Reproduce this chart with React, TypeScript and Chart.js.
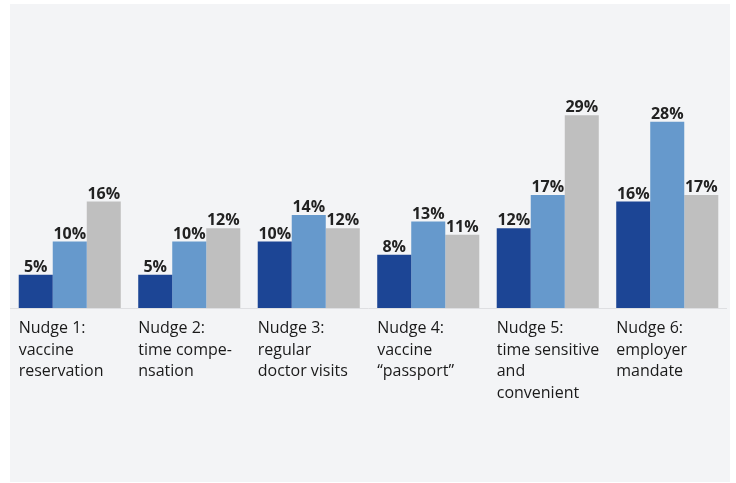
import React, { useEffect, useRef } from "react";
import { Chart, registerables } from "chart.js";

Chart.register(...registerables);

const categories: string[][] = [
  ["Nudge 1:", "vaccine", "reservation"],
  ["Nudge 2:", "time compe-", "nsation"],
  ["Nudge 3:", "regular", "doctor visits"],
  ["Nudge 4:", "vaccine", "\u201Cpassport\u201D"],
  ["Nudge 5:", "time sensitive", "and", "convenient"],
  ["Nudge 6:", "employer", "mandate"],
];

const seriesDark = [5, 5, 10, 8, 12, 16];
const seriesLight = [10, 10, 14, 13, 17, 28];
const seriesGray = [16, 12, 12, 11, 29, 17];

const COLORS = ["#1c4595", "#6699cc", "#bfbfbf"];
const CAT_PCT = 0.854;

const panelPlugin = {
  id: "panelBg",
  beforeDraw(chart: any) {
    const ctx = chart.ctx;
    ctx.save();
    ctx.fillStyle = "#ffffff";
    ctx.fillRect(0, 0, chart.width, chart.height);
    ctx.fillStyle = "#f3f4f6";
    ctx.fillRect(10, 4, 720, 478);
    const a = chart.chartArea;
    ctx.strokeStyle = "#dedfe2";
    ctx.lineWidth = 1;
    ctx.beginPath();
    ctx.moveTo(a.left, a.bottom + 0.5);
    ctx.lineTo(a.right, a.bottom + 0.5);
    ctx.stroke();
    ctx.restore();
  },
};

const labelsPlugin = {
  id: "valueAndCatLabels",
  afterDatasetsDraw(chart: any) {
    const ctx = chart.ctx;
    ctx.save();
    ctx.font = "bold 16px 'Open Sans'";
    ctx.fillStyle = "#222222";
    ctx.textAlign = "center";
    ctx.textBaseline = "alphabetic";
    chart.data.datasets.forEach((ds: any, di: number) => {
      const meta = chart.getDatasetMeta(di);
      meta.data.forEach((el: any, i: number) => {
        ctx.fillText(ds.data[i] + "%", el.x, el.y - 3);
      });
    });
    const xs = chart.scales.x;
    const pitch = (xs.right - xs.left) / categories.length;
    const gw = pitch * CAT_PCT;
    ctx.font = "16px 'Open Sans'";
    ctx.fillStyle = "#1a1a1a";
    ctx.textAlign = "left";
    categories.forEach((lines, i) => {
      const x = xs.getPixelForValue(i) - gw / 2;
      lines.forEach((line, k) => {
        ctx.fillText(line, x, chart.chartArea.bottom + 25 + k * 21.7);
      });
    });
    ctx.restore();
  },
};

export default function App() {
  const ref = useRef<HTMLCanvasElement | null>(null);
  useEffect(() => {
    if (!ref.current) return;
    const chart = new Chart(ref.current, {
      type: "bar",
      data: {
        labels: categories,
        datasets: [
          { label: "A", data: seriesDark, backgroundColor: COLORS[0] },
          { label: "B", data: seriesLight, backgroundColor: COLORS[1] },
          { label: "C", data: seriesGray, backgroundColor: COLORS[2] },
        ],
      },
      options: {
        responsive: false,
        animation: false,
        devicePixelRatio: 1,
        layout: { padding: { left: 10, right: 9, top: 42, bottom: 175 } },
        datasets: {
          bar: { barPercentage: 1, categoryPercentage: CAT_PCT },
        },
        plugins: {
          legend: { display: false },
          tooltip: { enabled: false },
        },
        scales: {
          x: { display: false },
          y: { display: false, min: 0, max: 40 },
        },
      },
      plugins: [panelPlugin, labelsPlugin],
    });
    return () => chart.destroy();
  }, []);
  return (
    <div style={{ position: "absolute", left: 0, top: 0, width: 736, height: 483 }}>
      <canvas ref={ref} width={736} height={483} style={{ display: "block" }} />
    </div>
  );
}
